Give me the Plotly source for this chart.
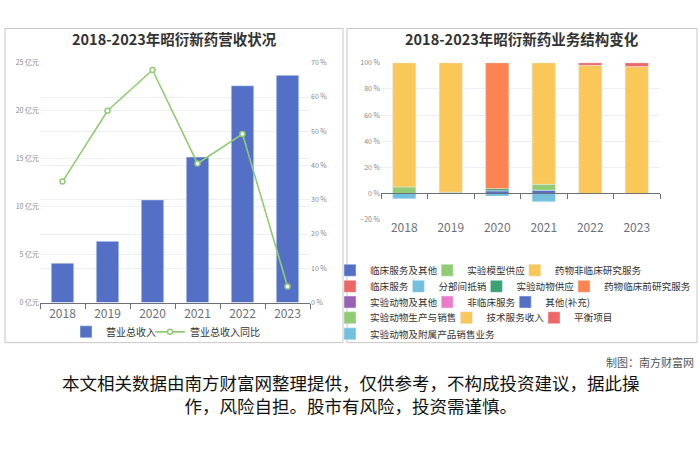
import plotly.graph_objects as go

# ---------------- data ----------------
years = ["2018", "2019", "2020", "2021", "2022", "2023"]

# 左图：营业总收入（亿元）与同比（%）
revenue = [4.10, 6.38, 10.70, 15.17, 22.60, 23.70]
revenue_yoy = [35.3, 56.0, 67.9, 40.6, 49.2, 4.7]

# 右图：业务结构（占比 %）
seg_names = ["临床服务及其他", "实验模型供应", "药物非临床研究服务", "临床服务", "分部间抵销",
             "实验动物供应", "药物临床前研究服务", "实验动物及其他", "非临床服务", "其他(补充)",
             "实验动物生产与销售", "技术服务收入", "平衡项目", "实验动物及附属产品销售业务"]
seg_clinical_other = [None, None, 2.0, 2.5, None, None]
seg_model_supply = [5.0, 1.0, None, 4.5, None, None]
seg_nonclinical = [95.0, 99.0, None, 93.0, 98.0, 97.2]
seg_clinical = [None, None, None, None, 2.0, 2.8]
seg_elimination = [-4.0, None, -2.0, -6.3, None, None]
seg_animal_supply = [None, None, 1.7, None, None, None]
seg_preclinical = [None, None, 96.3, None, None, None]
seg_animal_other = [None, None, None, None, None, None]
seg_nonclinical_svc = [None, None, None, None, None, None]
seg_other_suppl = [None, None, None, None, None, None]
seg_animal_prod = [None, None, None, None, None, None]
seg_tech_service = [None, None, None, None, None, None]
seg_balance = [None, None, None, None, None, None]
seg_animal_sales = [None, None, None, None, None, None]

seg_values = [seg_clinical_other, seg_model_supply, seg_nonclinical, seg_clinical,
              seg_elimination, seg_animal_supply, seg_preclinical, seg_animal_other,
              seg_nonclinical_svc, seg_other_suppl, seg_animal_prod, seg_tech_service,
              seg_balance, seg_animal_sales]

# ---------------- styling ----------------
W, H = 700, 467
FONT = "Noto Sans CJK SC"
palette = ["#5470c6", "#91cc75", "#fac858", "#ee6666", "#73c0de",
           "#3ba272", "#fc8452", "#9a60b4", "#ea7ccc"]
AXIS = "#6e7079"
GRID = "#eceef3"
LEG_FS = 9.6


def fx(px):
    return px / W


def fy(py):
    return 1 - py / H


def text_w(s, fs):
    w = 0.0
    for c in s:
        if ord(c) > 0x2E80:
            w += fs
        elif c in "()":
            w += 0.33 * fs
        else:
            w += 0.55 * fs
    return w


fig = go.Figure()

# ---- left chart ----
left_lw = text_w("营业总收入", 10) - 11
fig.add_trace(go.Bar(x=years, y=revenue, name="营业总收入", marker_color=palette[0],
                     xaxis="x", yaxis="y", legend="legend", legendwidth=left_lw))
fig.add_trace(go.Scatter(x=years, y=revenue_yoy, name="营业总收入同比", mode="lines+markers",
                         line=dict(color=palette[1], width=1.6),
                         marker=dict(size=5, color="white", line=dict(color=palette[1], width=1.5)),
                         xaxis="x", yaxis="y2", legend="legend"))

# ---- right chart ----
rows = [[0, 1, 2], [3, 4, 5, 6], [7, 8, 9], [10, 11, 12], [13]]
row_of = {}
for r, items in enumerate(rows):
    for j, i in enumerate(items):
        row_of[i] = (r, j == len(items) - 1)

for i, (name, vals) in enumerate(zip(seg_names, seg_values)):
    r, last = row_of[i]
    kw = {}
    if not last:
        kw["legendwidth"] = text_w(name, LEG_FS) - 15
    fig.add_trace(go.Bar(x=years, y=vals, name=name, marker_color=palette[i % len(palette)],
                         xaxis="x2", yaxis="y3", legend="legend" + str(r + 2), **kw))

legend_rows_y = [270, 286.5, 302.5, 318.5, 335]

layout = dict(
    width=W, height=H, margin=dict(l=0, r=0, t=0, b=0),
    paper_bgcolor="white", plot_bgcolor="rgba(0,0,0,0)",
    font=dict(family=FONT, color="#333"),
    barmode="relative", bargap=0.5, showlegend=True,
    xaxis=dict(domain=[fx(40), fx(310)], anchor="y", type="category",
               showline=True, linecolor=AXIS, ticks="outside", tickson="boundaries",
               ticklen=5, tickcolor=AXIS, tickfont=dict(size=12, color=AXIS), showgrid=False),
    yaxis=dict(domain=[fy(303), fy(58)], anchor="x", range=[0, 25], dtick=5,
               ticksuffix=" 亿元", tickfont=dict(size=7, color="#888"),
               showgrid=True, gridcolor=GRID, zeroline=False, showline=False),
    yaxis2=dict(overlaying="y", side="right", anchor="x", range=[0, 70], dtick=10,
                ticksuffix=" %", tickfont=dict(size=7, color="#888"),
                showgrid=True, gridcolor=GRID, zeroline=False, showline=False),
    xaxis2=dict(domain=[fx(381), fx(660)], anchor="free", position=fy(191.6), type="category",
                showline=True, linecolor=AXIS, ticks="outside", tickson="boundaries",
                ticklen=5, tickcolor=AXIS, tickfont=dict(size=12, color=AXIS),
                ticklabelstandoff=23, showgrid=False),
    yaxis3=dict(domain=[fy(218.3), fy(58)], anchor="x2", range=[-20, 100], dtick=20,
                ticksuffix=" %", tickfont=dict(size=7, color="#888"),
                showgrid=True, gridcolor=GRID, zeroline=False, showline=False),
    legend=dict(orientation="h", x=fx(66), y=fy(333), xanchor="left", yanchor="middle",
                bgcolor="rgba(0,0,0,0)", font=dict(size=10, color="#333"), itemwidth=30),
)
for r, yy in enumerate(legend_rows_y):
    layout["legend" + str(r + 2)] = dict(orientation="h", x=fx(330), y=fy(yy),
                                        xanchor="left", yanchor="middle",
                                        bgcolor="rgba(0,0,0,0)",
                                        font=dict(size=LEG_FS, color="#333"), itemwidth=30)

fig.update_layout(**layout)

# panel frames
for x0, x1 in [(5, 343), (347, 697)]:
    fig.add_shape(type="rect", xref="paper", yref="paper", x0=fx(x0), x1=fx(x1),
                  y0=fy(344), y1=fy(23), line=dict(color="#c6c6c6", width=1), layer="below")

# titles and notes
fig.add_annotation(text="<b>2018-2023年昭衍新药营收状况</b>", xref="paper", yref="paper",
                   x=fx(174), y=fy(33), xanchor="center", yanchor="middle", showarrow=False,
                   font=dict(size=14.5, color="#333"))
fig.add_annotation(text="<b>2018-2023年昭衍新药业务结构变化</b>", xref="paper", yref="paper",
                   x=fx(522), y=fy(33), xanchor="center", yanchor="middle", showarrow=False,
                   font=dict(size=14.5, color="#333"))
fig.add_annotation(text="制图：南方财富网", xref="paper", yref="paper", x=fx(696), y=fy(364),
                   xanchor="right", yanchor="middle", showarrow=False,
                   font=dict(size=11, color="#555"))
fig.add_annotation(text="本文相关数据由南方财富网整理提供，仅供参考，不构成投资建议，据此操<br>作，风险自担。股市有风险，投资需谨慎。",
                   xref="paper", yref="paper", x=fx(351), y=fy(397), xanchor="center",
                   yanchor="middle", showarrow=False, align="center",
                   font=dict(size=17.5, color="#111"))

post = ("document.body.style.margin='0';document.body.style.padding='0';"
        "var d=document.getElementById('{plot_id}');d.style.position='absolute';"
        "d.style.left='0px';d.style.top='0px';")
fig.write_html("out.html", post_script=post, config={"displayModeBar": False})
